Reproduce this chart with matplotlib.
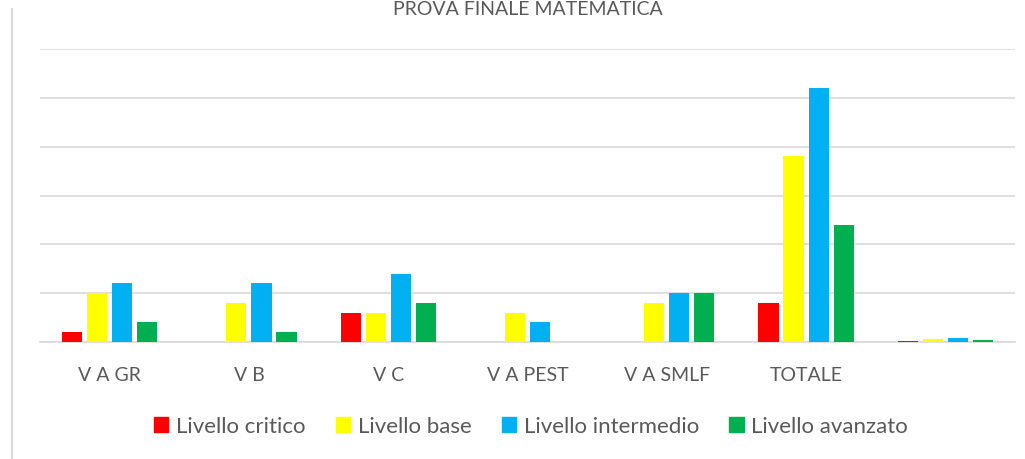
import matplotlib
matplotlib.use("Agg")
import matplotlib.pyplot as plt
import numpy as np
from matplotlib.lines import Line2D

categories = ["V A GR", "V B", "V C", "V A PEST", "V A SMLF", "TOTALE", ""]
series_names = ["Livello critico", "Livello base", "Livello intermedio", "Livello avanzato"]
critico = [1, 0, 3, 0, 0, 4, 0.066]
base = [5, 4, 3, 3, 4, 19, 0.311]
intermedio = [6, 6, 7, 2, 5, 26, 0.426]
avanzato = [2, 1, 4, 0, 5, 12, 0.197]
colors = ["#FF0000", "#FFFF00", "#00B0F0", "#00B050"]
title = "PROVA FINALE MATEMATICA"

plt.rcParams['font.family'] = ['Lato', 'DejaVu Sans']

fig = plt.figure(figsize=(10.25, 4.6), dpi=100)
W, H = 1025, 460
ax = fig.add_axes([40 / W, 1 - 343 / H, 975 / W, 293 / H])

series = [critico, base, intermedio, avanzato]
x = np.arange(len(categories))
slot = 0.18
bw = 0.145
for i, (vals, c) in enumerate(zip(series, colors)):
    ax.bar(x + (i - 1.5) * slot, vals, width=bw, color=c, zorder=3)

ax.set_xlim(-0.5, len(categories) - 0.5)
ax.set_ylim(0, 30)
ax.set_yticks(np.arange(0, 31, 5))
ax.yaxis.grid(True, color="#D9D9D9", linewidth=1.2, zorder=0)
ax.tick_params(axis='y', left=False, labelleft=False)
ax.tick_params(axis='x', bottom=False, length=0, pad=17)
ax.set_xticks(x)
ax.set_xticklabels(categories, fontsize=14, color="#595959")
for s in ["top", "right", "left"]:
    ax.spines[s].set_visible(False)
ax.spines["bottom"].set_color("#D9D9D9")
ax.spines["bottom"].set_linewidth(1.2)

# left border line
fig.add_artist(Line2D([11.5 / W, 11.5 / W], [0, 1 - 10 / H], color="#D9D9D9", linewidth=1.5))

# title at the very top
fig.text(528 / W, 1 - 1 / H, title, ha="center", va="top", fontsize=14,
         color="#595959")

handles = [plt.Rectangle((0, 0), 1, 1, color=c) for c in colors]
fig.legend(handles, series_names, loc="center", bbox_to_anchor=(531 / W, 1 - 427 / H),
           ncol=4, frameon=False, fontsize=16, labelcolor="#595959",
           handlelength=0.65, handleheight=0.65, handletextpad=0.35, columnspacing=1.35,
           borderpad=0)

fig.savefig("out.png", dpi=100)
